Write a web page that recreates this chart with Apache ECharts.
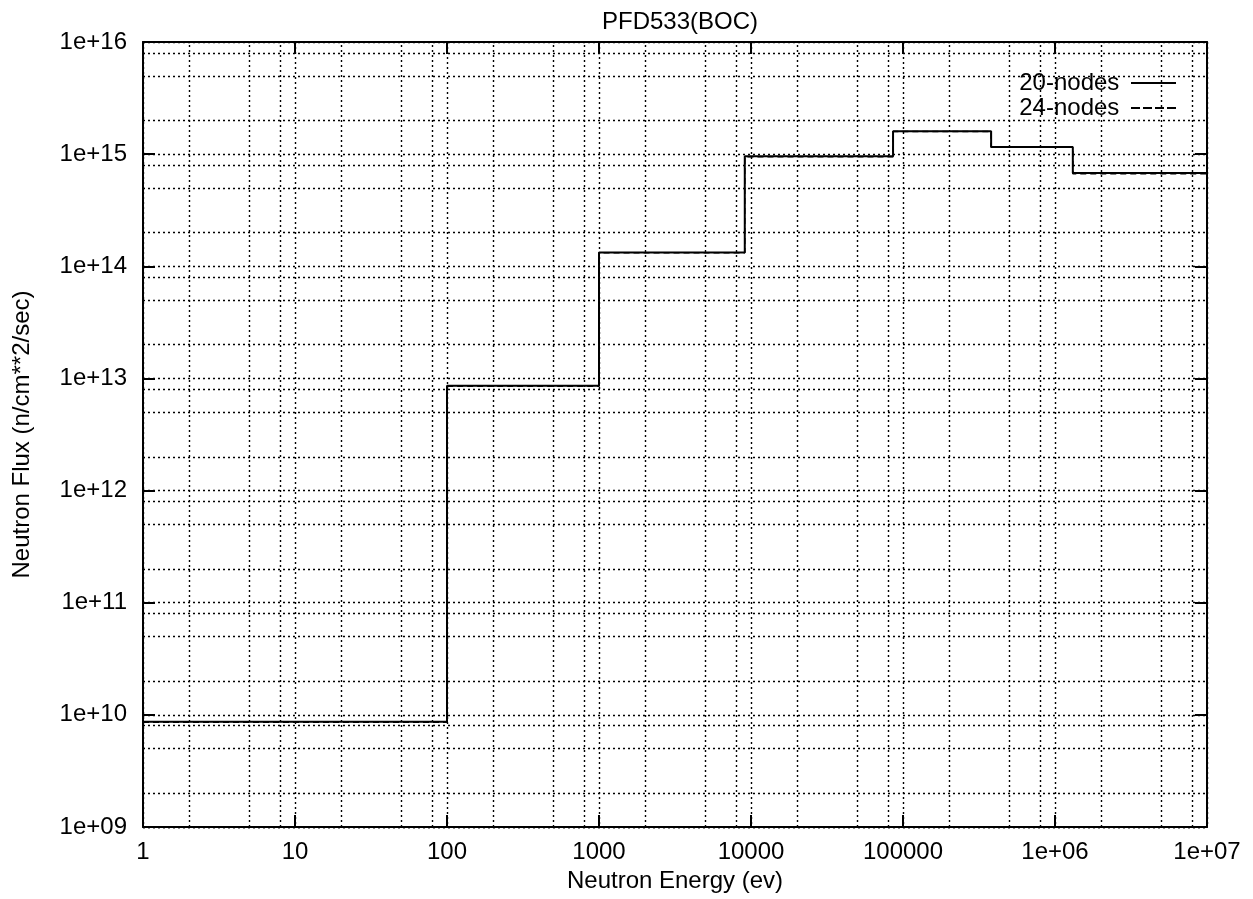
<!DOCTYPE html>
<html>
<head>
<meta charset="utf-8">
<title>PFD533(BOC)</title>
<script src="https://cdn.jsdelivr.net/npm/echarts@6/dist/echarts.min.js"></script>
<style>
  html, body { margin: 0; padding: 0; background: #fff; }
  #chart { width: 1253px; height: 899px; }
</style>
</head>
<body>
<div id="chart"></div>
<script>
// group edges (ev) and flux per group
const energyEdges = [1, 100, 1000, 9100, 86000, 380000, 1310000, 10000000];
const flux20 = [8.7e9, 8.6e12, 1.33e14, 9.6e14, 1.6e15, 1.16e15, 6.8e14];
const flux24 = [8.6e9, 8.5e12, 1.32e14, 9.5e14, 1.59e15, 1.15e15, 6.7e14];

const xTickLabels = ['1', '10', '100', '1000', '10000', '100000', '1e+06', '1e+07'];
const yTickLabels = ['1e+09', '1e+10', '1e+11', '1e+12', '1e+13', '1e+14', '1e+15', '1e+16'];

// gnuplot minor grid sits at 2, 5, 8 in each decade
const minorSteps = [2, 5, 8];

const FONT = 'Liberation Sans, Arial, Helvetica, sans-serif';

function stepData(values) {
  return energyEdges.map((e, i) => [e, values[Math.min(i, values.length - 1)]]);
}

function minorLines(axisKey, fromExp, toExp) {
  const out = [];
  for (let k = fromExp; k < toExp; k++) {
    minorSteps.forEach(s => {
      out.push({ [axisKey]: s * Math.pow(10, k) });
    });
  }
  return out;
}

const chart = echarts.init(document.getElementById('chart'));

const gridLine = { color: '#000', width: 1.4, type: [2, 3] };
const frame = { show: true, lineStyle: { color: '#000', width: 2 } };
const ticks = { show: true, inside: true, length: 12, lineStyle: { color: '#000', width: 2 } };

const option = {
  animation: false,
  backgroundColor: '#fff',
  title: {
    text: 'PFD533(BOC)',
    left: 675,
    textAlign: 'center',
    top: 5,
    textStyle: { fontFamily: FONT, fontSize: 24, fontWeight: 'normal', color: '#000' }
  },
  legend: {
    orient: 'vertical',
    right: 72,
    top: 66,
    align: 'right',
    itemWidth: 45,
    itemHeight: 2,
    itemGap: 1,
    formatter: name => name + ' ',
    textStyle: { fontFamily: FONT, fontSize: 24, color: '#000' },
    data: [
      { name: '20-nodes', icon: 'path://M0,0h45v2h-45z' },
      { name: '24-nodes', icon: 'path://M0,0h9v2h-9z M12,0h9v2h-9z M24,0h9v2h-9z M36,0h9v2h-9z' }
    ]
  },
  grid: { left: 143, right: 46, top: 42, bottom: 72 },
  xAxis: [
    {
      type: 'log',
      logBase: 10,
      min: 1,
      max: 1e7,
      splitNumber: 7,
      name: 'Neutron Energy (ev)',
      nameLocation: 'middle',
      nameGap: 37,
      nameTextStyle: { fontFamily: FONT, fontSize: 24, color: '#000' },
      axisLine: frame,
      axisTick: ticks,
      axisLabel: {
        margin: 13,
        fontFamily: FONT, fontSize: 24, color: '#000',
        showMinLabel: true, showMaxLabel: true,
        formatter: v => xTickLabels[Math.round(Math.log10(v))]
      },
      splitLine: { show: true, lineStyle: gridLine }
    },
    {
      type: 'log',
      logBase: 10,
      min: 1,
      max: 1e7,
      splitNumber: 7,
      position: 'top',
      axisLine: frame,
      axisTick: ticks,
      axisLabel: { show: false },
      splitLine: { show: false }
    }
  ],
  yAxis: [
    {
      type: 'log',
      logBase: 10,
      min: 1e9,
      max: 1e16,
      splitNumber: 7,
      name: 'Neutron Flux (n/cm**2/sec)',
      nameLocation: 'middle',
      nameGap: 109,
      nameTextStyle: { fontFamily: FONT, fontSize: 24, color: '#000' },
      axisLine: frame,
      axisTick: ticks,
      axisLabel: {
        margin: 16,
        fontFamily: FONT, fontSize: 24, color: '#000',
        showMinLabel: true, showMaxLabel: true,
        formatter: v => yTickLabels[Math.round(Math.log10(v)) - 9]
      },
      splitLine: { show: true, lineStyle: gridLine }
    },
    {
      type: 'log',
      logBase: 10,
      min: 1e9,
      max: 1e16,
      splitNumber: 7,
      position: 'right',
      axisLine: frame,
      axisTick: ticks,
      axisLabel: { show: false },
      splitLine: { show: false }
    }
  ],
  series: [
    {
      name: 'grid-minor',
      type: 'line',
      xAxisIndex: 0,
      yAxisIndex: 0,
      data: [],
      silent: true,
      z: 1,
      markLine: {
        silent: true,
        symbol: ['none', 'none'],
        label: { show: false },
        emphasis: { disabled: true },
        lineStyle: gridLine,
        data: minorLines('xAxis', 0, 7).concat(minorLines('yAxis', 9, 16))
      }
    },
    {
      name: '24-nodes',
      type: 'line',
      step: 'end',
      xAxisIndex: 0,
      yAxisIndex: 0,
      symbol: 'none',
      z: 3,
      lineStyle: { color: '#000', width: 1.5, type: [6, 4] },
      itemStyle: { color: '#000' },
      data: stepData(flux24)
    },
    {
      name: '20-nodes',
      type: 'line',
      step: 'end',
      xAxisIndex: 0,
      yAxisIndex: 0,
      symbol: 'none',
      z: 4,
      lineStyle: { color: '#000', width: 2 },
      itemStyle: { color: '#000' },
      data: stepData(flux20)
    }
  ]
};

chart.setOption(option);
window.addEventListener('resize', () => chart.resize());
</script>
</body>
</html>
